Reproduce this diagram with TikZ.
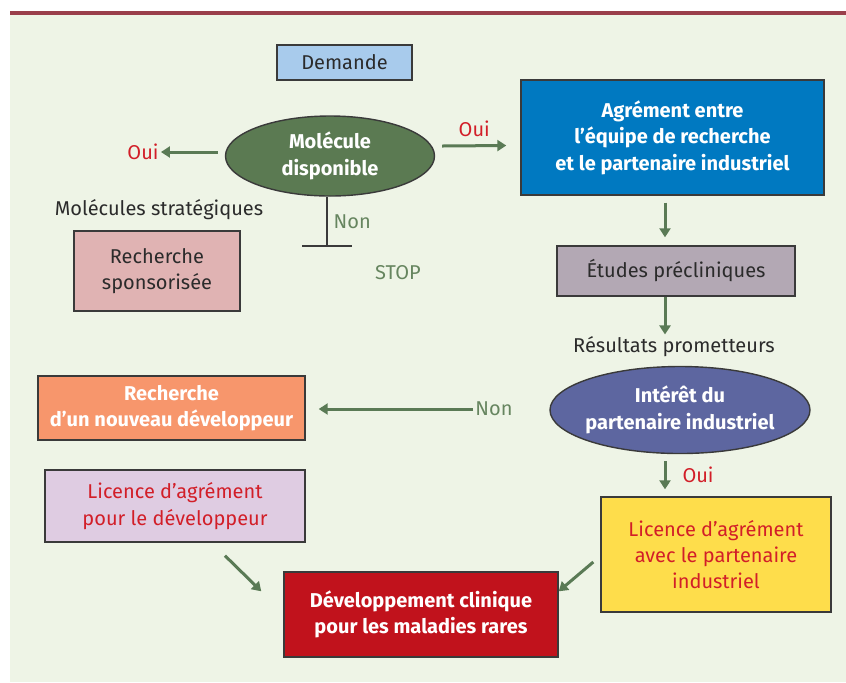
\documentclass[tikz,border=0pt]{standalone}
\usepackage{fontspec}
\setmainfont{Fira Sans}
\usetikzlibrary{arrows.meta, shapes.geometric, positioning}
\definecolor{barred}{HTML}{9A3F4B}
\definecolor{panel}{HTML}{EEF4E6}
\definecolor{boxline}{HTML}{3A3A3A}
\definecolor{arrgreen}{HTML}{5A7A55}
\definecolor{txtgreen}{HTML}{66855F}
\definecolor{txtred}{HTML}{D21E28}
\definecolor{txtdark}{HTML}{2B2B2B}
\definecolor{demblue}{HTML}{A8CBEC}
\definecolor{molgreen}{HTML}{5B7A52}
\definecolor{sponspink}{HTML}{E0B3B3}
\definecolor{agrblue}{HTML}{0079C1}
\definecolor{etumauve}{HTML}{B3A8B4}
\definecolor{intpurple}{HTML}{5D66A0}
\definecolor{nouvorange}{HTML}{F7966C}
\definecolor{liclilac}{HTML}{DFCCE2}
\definecolor{yelbox}{HTML}{FEDD4B}
\definecolor{devred}{HTML}{C1121C}
\tikzset{
  box/.style={draw=boxline, line width=0.7pt, rectangle, align=center, inner sep=2pt, text=txtdark, font=\fontsize{10}{13.2}\selectfont},
  oval/.style={draw=boxline, line width=0.7pt, ellipse, align=center, inner xsep=-6pt, inner ysep=-3pt, text=white, font=\fontsize{10}{13.2}\selectfont\bfseries},
  lbl/.style={inner sep=1pt, text=txtdark, font=\fontsize{10}{12}\selectfont},
  arr/.style={draw=arrgreen, line width=1.5pt, -{Triangle[length=4.5pt,width=5.5pt]}}
}

\begin{document}
\begin{tikzpicture}[x=0.5pt, y=-0.5pt]
\useasboundingbox (0,0) rectangle (846,682);
\fill[panel] (10,15) rectangle (846,682);
\draw[barred, line width=2pt] (10,13) -- (846,13);
% top part
\node[box, fill=demblue, minimum width=67.5pt, minimum height=17.5pt] (dem) at (344.5,62.5) {Demande};
\node[oval, fill=molgreen, minimum width=104.5pt, minimum height=40pt] (mol) at (330,156) {Molécule\\disponible};
\node[lbl, text=txtred] (ouiL) at (143,152) {Oui};
\node[lbl] (strat) at (159,210) {Molécules stratégiques};
\node[box, fill=sponspink, minimum width=83pt, minimum height=40pt] (spons) at (157,271) {Recherche\\sponsorisée};
\node[box, fill=agrblue, text=white, font=\fontsize{10}{13.2}\selectfont\bfseries, minimum width=151.5pt, minimum height=57.5pt] (agr) at (672.5,137.5) {Agrément entre\\l’équipe de recherche\\et le partenaire industriel};
\node[lbl, text=txtgreen] (stop) at (398,273) {STOP};
\coordinate (tbar) at (327,246);
\coordinate (spine) at (665,0);
% middle part
\node[box, fill=etumauve, minimum width=119pt, minimum height=25pt] (etu) at (676,271) {Études précliniques};
\node[lbl] (res) at (674,347) {Résultats prometteurs};
\node[oval, fill=intpurple, minimum width=130pt, minimum height=43.5pt] (int) at (680,410) {Intérêt du\\partenaire industriel};
\node[lbl, text=txtgreen] (nonI) at (494,409) {Non};
\node[box, fill=nouvorange, text=white, font=\fontsize{10}{13.2}\selectfont\bfseries, minimum width=133.5pt, minimum height=32pt] (nouv) at (171.5,408) {Recherche\\d’un nouveau développeur};
\node[box, fill=liclilac, text=txtred, minimum width=130pt, minimum height=36pt] (lic) at (175,506) {Licence d’agrément\\pour le développeur};
\node[box, fill=yelbox, text=txtred, minimum width=115pt, minimum height=57.5pt] (yel) at (716,554.5) {Licence d’agrément\\avec le partenaire\\industriel};
\node[box, fill=devred, text=white, font=\fontsize{10}{13.2}\selectfont\bfseries, minimum width=137pt, minimum height=42.5pt] (dev) at (421,614.5) {Développement clinique\\pour les maladies rares};
% connectors
\draw[arr] ([xshift=-3.5pt]mol.west |- ouiL.east) -- (ouiL.east);
\draw[arr] ([shift={(3.5pt,5pt)}]mol.east) -- ([shift={(-7pt,-4pt)}]agr.west) node[midway, above=3pt, lbl, text=txtred]{Oui};
\draw[boxline, line width=0.7pt] (mol.south -| tbar) -- (tbar) node[midway, right=2pt, lbl, text=txtgreen]{Non};
\draw[boxline, line width=0.7pt] ([xshift=-12.5pt]tbar) -- ([xshift=12.5pt]tbar);
\draw[arr] ([yshift=-3.5pt]agr.south -| spine) -- ([yshift=4pt]etu.north -| spine);
\draw[arr] (etu.south -| spine) -- (res.north -| spine);
\draw[arr] (nonI.west) -- ([xshift=6.5pt]nouv.east |- nonI.west);
\draw[arr] ([yshift=-3.5pt]int.south -| spine) -- ([yshift=3.5pt]yel.north -| spine) node[midway, right=7pt, lbl, text=txtred]{Oui};
\draw[arr] ([shift={(25pt,-6.5pt)}]lic.south) -- ([shift={(-11pt,-10pt)}]dev.north west);
\draw[arr] ([shift={(-3.5pt,-3.75pt)}]yel.west) -- ([yshift=-10pt]dev.north east);
\end{tikzpicture}
\end{document}
